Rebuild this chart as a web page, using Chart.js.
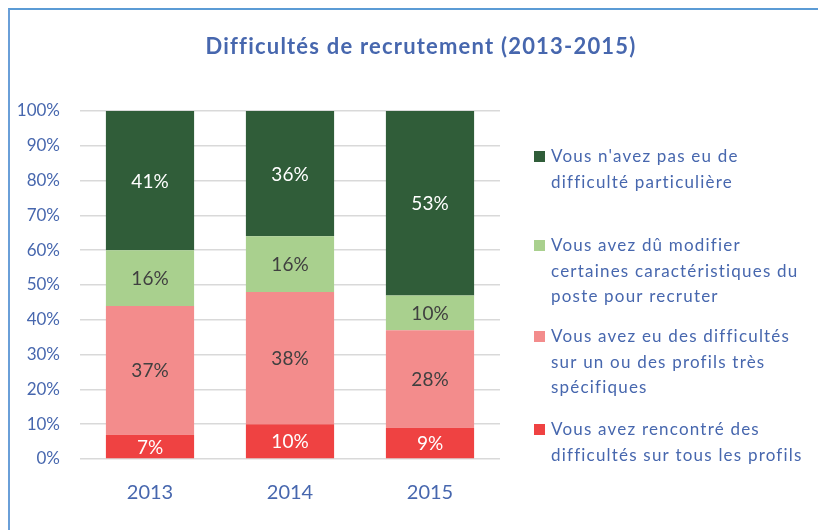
<!DOCTYPE html>
<html>
<head>
<meta charset="utf-8">
<script src="https://cdn.jsdelivr.net/npm/chart.js@4/dist/chart.umd.min.js"></script>
<style>
  html, body { margin: 0; padding: 0; background: #fff; overflow: hidden; }
  #wrap { position: relative; width: 818px; height: 530px; }
  #frame { position: absolute; left: 8px; top: 8px; width: 900px; height: 600px;
           border-left: 2px solid #6a9fd8; border-top: 2px solid #5b9bd5; }
  #c { position: absolute; left: 0; top: 0; }
</style>
</head>
<body>
<div id="wrap">
  <div id="frame"></div>
  <canvas id="c" width="818" height="530"></canvas>
</div>
<script>
const years = ['2013', '2014', '2015'];

// bottom to top of each bar
const toutesDifficultes = [7, 10, 9];
const profilsSpecifiques = [37, 38, 28];
const posteModifie = [16, 16, 10];
const pasDeDifficulte = [41, 36, 53];

const yTicks = [0, 10, 20, 30, 40, 50, 60, 70, 80, 90, 100];

const legendLines = [
    ["Vous n'avez pas eu de", "difficulté particulière"],
    ["Vous avez dû modifier", "certaines caractéristiques du", "poste pour recruter"],
    ["Vous avez eu des difficultés", "sur un ou des profils très", "spécifiques"],
    ["Vous avez rencontré des", "difficultés sur tous les profils"]
];

const blue = '#4767ae';
const FONT = 'Lato, "Noto Sans", sans-serif';

// draws title, bar labels and the side legend
const extras = {
    id: 'extras',
    afterDatasetsDraw(chart) {
        const ctx = chart.ctx;
        ctx.save();
        ctx.textAlign = 'center';
        ctx.textBaseline = 'middle';
        ctx.font = '19px ' + FONT;
        chart.data.datasets.forEach((ds, i) => {
            const meta = chart.getDatasetMeta(i);
            meta.data.forEach((bar, j) => {
                const top = Math.max(bar.y, chart.chartArea.top);
                const y = (top + bar.base) / 2;
                ctx.fillStyle = ds.labelColor;
                ctx.fillText(ds.data[j] + '%', bar.x, y + 1);
            });
        });

        ctx.font = 'bold 22px ' + FONT;
        ctx.letterSpacing = '1.2px';
        ctx.fillStyle = blue;
        ctx.fillText('Difficultés de recrutement (2013-2015)', 421, 47);

        // legend, top entry = top of the stack
        const tops = [157, 246, 337, 430];
        const order = [3, 2, 1, 0];
        ctx.textAlign = 'left';
        ctx.font = '17px ' + FONT;
        ctx.letterSpacing = '1.2px';
        order.forEach((dsIndex, k) => {
            const ds = chart.data.datasets[dsIndex];
            ctx.fillStyle = ds.backgroundColor;
            ctx.fillRect(534, tops[k] - 6, 11, 11);
            ctx.fillStyle = blue;
            legendLines[k].forEach((line, n) => {
                ctx.fillText(line, 551, tops[k] + n * 25.3);
            });
        });
        ctx.restore();
    }
};

new Chart(document.getElementById('c'), {
    type: 'bar',
    data: {
        labels: years,
        datasets: [
            { label: legendLines[3].join(' '), data: toutesDifficultes, backgroundColor: '#ef4242', labelColor: '#ffffff' },
            { label: legendLines[2].join(' '), data: profilsSpecifiques, backgroundColor: '#f38c8c', labelColor: '#404040' },
            { label: legendLines[1].join(' '), data: posteModifie, backgroundColor: '#a9d08e', labelColor: '#404040' },
            { label: legendLines[0].join(' '), data: pasDeDifficulte, backgroundColor: '#305d39', labelColor: '#ffffff' }
        ]
    },
    options: {
        responsive: false,
        animation: false,
        layout: { padding: { top: 111, left: 0, right: 318, bottom: 0 } },
        datasets: {
            bar: { barPercentage: 0.9, categoryPercentage: 0.7, borderWidth: 0 }
        },
        plugins: {
            legend: { display: false },
            title: { display: false },
            tooltip: { enabled: false }
        },
        scales: {
            x: {
                stacked: true,
                afterFit: s => { s.height = 71; },
                grid: { display: false, drawTicks: false },
                border: { display: false },
                ticks: { color: blue, font: { family: FONT, size: 20 }, padding: 22 }
            },
            y: {
                stacked: true,
                min: 0,
                max: 100,
                afterFit: s => { s.width = 80; },
                afterBuildTicks: s => { s.ticks = yTicks.map(v => ({ value: v })); },
                grid: { color: '#d9d9d9', lineWidth: 1.5, drawTicks: false },
                border: { display: false },
                ticks: { color: blue, font: { family: FONT, size: 17 }, padding: 20, callback: v => v + '%' }
            }
        }
    },
    plugins: [extras]
});
</script>
</body>
</html>
